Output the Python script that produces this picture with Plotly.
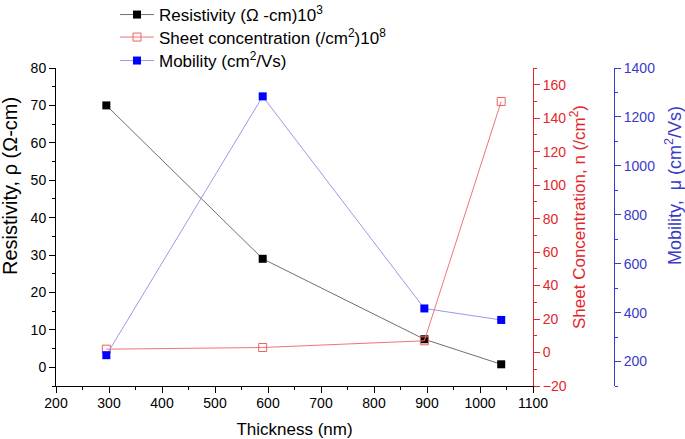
import plotly.graph_objects as go

thickness = [295, 590, 895, 1040]
resistivity = [70, 29, 7.5, 0.8]
sheet_conc = [2, 3, 7, 150]
mobility = [226, 1284, 417, 370]

FONT = "Liberation Sans, Arial, sans-serif"
RED = "#e3262b"
BLUE = "#3a3ac8"

fig = go.Figure()
fig.add_trace(go.Scatter(
    x=thickness, y=resistivity, mode="lines+markers",
    name="Resistivity (Ω -cm)10<sup>3</sup>",
    line=dict(color="#707070", width=1),
    marker=dict(symbol="square", size=8, color="black"),
    yaxis="y", legend="legend"))
fig.add_trace(go.Scatter(
    x=thickness, y=sheet_conc, mode="lines+markers",
    name="Sheet concentration (/cm<sup>2</sup>)10<sup>8</sup>",
    line=dict(color="#f07575", width=1),
    marker=dict(symbol="square-open", size=8, color="#f06060", line=dict(width=1)),
    yaxis="y2", legend="legend2"))
fig.add_trace(go.Scatter(
    x=thickness, y=mobility, mode="lines+markers",
    name="Mobility (cm<sup>2</sup>/Vs)",
    line=dict(color="#9a9ae8", width=1),
    marker=dict(symbol="square", size=8, color="#0000ff"),
    yaxis="y3", legend="legend3"))

W, H = 685, 439
L, R, T, B = 56, 0, 0, 53
pw = W - L - R
ph = H - T - B
xend = (533 - L) / pw
bluepos = (614 - L) / pw
ytop = (386 - 68) / ph


def px(x):
    return (x - L) / pw


def py(y):
    return (386 - y) / ph


def leg(ypix):
    return dict(x=px(115), y=py(ypix), xanchor="left", yanchor="middle",
                font=dict(size=17), bgcolor="rgba(0,0,0,0)", itemwidth=34,
                borderwidth=0)


fig.update_layout(
    width=W, height=H,
    margin=dict(l=L, r=R, t=T, b=B, autoexpand=False),
    paper_bgcolor="white", plot_bgcolor="white",
    font=dict(family=FONT, size=14, color="black"),
    showlegend=True,
    legend=leg(15), legend2=leg(37.5), legend3=leg(61),
    xaxis=dict(
        domain=[0, xend], range=[200, 1100], dtick=100, tick0=200,
        showline=True, linecolor="black", linewidth=1, mirror=False,
        ticks="outside", ticklen=6, tickcolor="black", showgrid=False, zeroline=False,
        minor=dict(dtick=50, ticks="outside", ticklen=3, tickcolor="black"),
        title=dict(text="Thickness (nm)", font=dict(size=17), standoff=13),
        tickfont=dict(size=14), ticklabelstandoff=-2, automargin=False),
    yaxis=dict(
        domain=[0, ytop],
        range=[-5, 80], dtick=10, tick0=0,
        showline=True, linecolor="black", linewidth=1,
        ticks="outside", ticklen=6, tickcolor="black", showgrid=False, zeroline=False,
        minor=dict(dtick=5, ticks="outside", ticklen=3, tickcolor="black"),
        tickfont=dict(size=14), automargin=False),
    yaxis2=dict(
        range=[-20, 170], dtick=20, tick0=0, overlaying="y", side="right", anchor="x",
        showline=True, linecolor=RED, linewidth=1,
        ticks="outside", ticklen=6, tickcolor=RED, showgrid=False, zeroline=False,
        minor=dict(dtick=10, ticks="outside", ticklen=3, tickcolor=RED),
        tickfont=dict(size=14, color=RED), automargin=False),
    yaxis3=dict(
        range=[100, 1400], dtick=200, tick0=200, overlaying="y", side="right", anchor="free",
        position=bluepos,
        showline=True, linecolor=BLUE, linewidth=1,
        ticks="outside", ticklen=6, tickcolor=BLUE, showgrid=False, zeroline=False,
        minor=dict(dtick=100, ticks="outside", ticklen=3, tickcolor=BLUE),
        tickfont=dict(size=14, color=BLUE), automargin=False),
    annotations=[
        dict(text="Resistivity, ρ (Ω-cm)", x=px(10), y=py(186), xref="paper", yref="paper",
             textangle=-90, showarrow=False, xanchor="center", yanchor="middle",
             font=dict(size=20, color="black")),
        dict(text="Sheet Concentration, n (/cm<sup>2</sup>)", x=px(578), y=py(217),
             xref="paper", yref="paper", textangle=-90, showarrow=False,
             xanchor="center", yanchor="middle", font=dict(size=17, color=RED)),
        dict(text="Mobility,&nbsp; μ (cm<sup>2</sup>/Vs)", x=px(673), y=py(186),
             xref="paper", yref="paper", textangle=-90, showarrow=False,
             xanchor="center", yanchor="middle", font=dict(size=18, color=BLUE)),
    ],
)

fig.write_html("out.html", config={"displayModeBar": False},
               post_script="document.body.style.margin='0px';")
